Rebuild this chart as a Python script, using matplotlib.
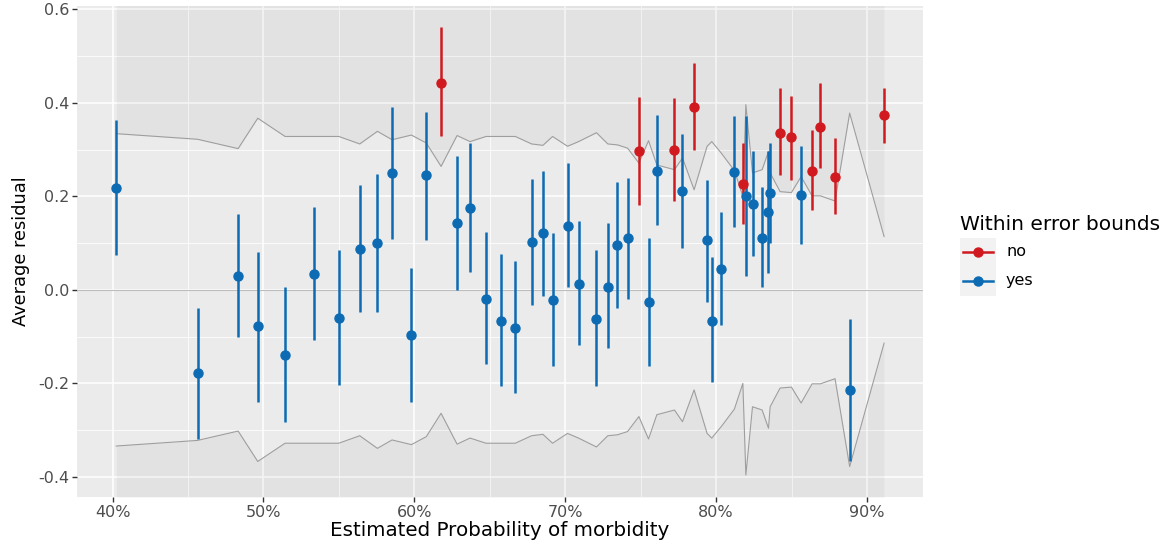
import numpy as np
import matplotlib.pyplot as plt
from matplotlib.lines import Line2D
from matplotlib.patches import Rectangle
from matplotlib.ticker import FixedLocator, FuncFormatter

plt.rcParams['font.family'] = ['DejaVu Sans']
plt.rcParams['axes.unicode_minus'] = False

# estimated probability of morbidity (%)
prob = [40.24, 45.63, 48.32, 49.62, 51.43, 53.38, 54.99, 56.38, 57.55, 58.52,
        59.80, 60.79, 61.77, 62.83, 63.69, 64.75, 65.74, 66.69, 67.77, 68.52,
        69.16, 70.15, 70.88, 72.07, 72.82, 73.46, 74.13, 74.88, 75.52, 76.07,
        77.24, 77.77, 78.54, 79.40, 79.71, 80.35, 81.21, 81.77, 81.97, 82.41,
        83.05, 83.47, 83.58, 84.24, 84.99, 85.63, 86.36, 86.91, 87.88, 88.85,
        91.13]
resid = [0.218, -0.178, 0.029, -0.078, -0.139, 0.034, -0.061, 0.087, 0.100, 0.250,
         -0.097, 0.245, 0.443, 0.142, 0.176, -0.019, -0.066, -0.082, 0.102, 0.121,
         -0.021, 0.137, 0.013, -0.063, 0.007, 0.095, 0.110, 0.297, -0.026, 0.255,
         0.300, 0.212, 0.391, 0.106, -0.066, 0.045, 0.252, 0.226, 0.200, 0.184,
         0.110, 0.166, 0.208, 0.336, 0.326, 0.202, 0.255, 0.349, 0.242, -0.215,
         0.373]
upper = [0.364, -0.039, 0.163, 0.082, 0.006, 0.177, 0.086, 0.225, 0.248, 0.392,
         0.046, 0.381, 0.562, 0.287, 0.315, 0.123, 0.077, 0.061, 0.237, 0.255,
         0.121, 0.271, 0.148, 0.086, 0.143, 0.230, 0.239, 0.412, 0.111, 0.374,
         0.410, 0.334, 0.486, 0.234, 0.070, 0.166, 0.371, 0.315, 0.371, 0.297,
         0.221, 0.296, 0.315, 0.431, 0.415, 0.308, 0.342, 0.442, 0.324, -0.063,
         0.431]
lower = [0.075, -0.319, -0.101, -0.240, -0.282, -0.108, -0.203, -0.048, -0.048, 0.109,
         -0.240, 0.107, 0.329, -0.001, 0.038, -0.159, -0.205, -0.221, -0.032, -0.014,
         -0.162, 0.007, -0.119, -0.205, -0.125, -0.038, -0.020, 0.182, -0.162, 0.138,
         0.190, 0.090, 0.298, -0.025, -0.197, -0.075, 0.135, 0.140, 0.030, 0.073,
         0.006, 0.037, 0.100, 0.246, 0.235, 0.098, 0.170, 0.260, 0.162, -0.367,
         0.315]
# half-width of the error bounds at each point
bound = [0.334, 0.322, 0.302, 0.367, 0.328, 0.328, 0.328, 0.312, 0.339, 0.321,
         0.331, 0.314, 0.264, 0.330, 0.317, 0.328, 0.328, 0.328, 0.312, 0.309,
         0.328, 0.307, 0.317, 0.336, 0.312, 0.310, 0.303, 0.271, 0.319, 0.267,
         0.257, 0.282, 0.214, 0.307, 0.317, 0.292, 0.255, 0.200, 0.396, 0.250,
         0.257, 0.296, 0.250, 0.210, 0.208, 0.242, 0.201, 0.201, 0.190, 0.378,
         0.114]
within = ['yes'] * 12 + ['no'] + ['yes'] * 14 + ['no', 'yes', 'yes', 'no', 'yes', 'no'] \
    + ['yes'] * 4 + ['no'] + ['yes'] * 5 + ['no', 'no', 'yes', 'no', 'no', 'no', 'yes', 'no']

colors = {'no': '#D01A1F', 'yes': '#0C6BB3'}
x_ticks = [40, 50, 60, 70, 80, 90]
y_ticks = [-0.4, -0.2, 0.0, 0.2, 0.4, 0.6]

x = np.array(prob) / 100
b = np.array(bound)

fig = plt.figure(figsize=(11.7, 5.47), dpi=100)
ax = fig.add_axes([77 / 1170, 1 - 497 / 547, 846 / 1170, 491 / 547])
ax.set_facecolor('#EBEBEB')
for s in ax.spines.values():
    s.set_visible(False)

ax.set_xlim(0.3764, 0.9371)
ax.set_ylim(-0.443, 0.607)

ax.xaxis.set_major_locator(FixedLocator([t / 100 for t in x_ticks]))
ax.xaxis.set_minor_locator(FixedLocator([t / 100 + 0.05 for t in x_ticks[:-1]]))
ax.yaxis.set_major_locator(FixedLocator(y_ticks))
ax.yaxis.set_minor_locator(FixedLocator([t + 0.1 for t in y_ticks[:-1]]))
ax.xaxis.set_major_formatter(FuncFormatter(lambda v, p: f"{v * 100:.0f}%"))
ax.yaxis.set_major_formatter(FuncFormatter(lambda v, p: f"{v:.1f}"))
ax.grid(which='major', color='white', lw=1.1, zorder=0)
ax.grid(which='minor', color='white', lw=0.55, zorder=0)
ax.set_axisbelow(True)
ax.tick_params(which='major', length=3.5, width=1, color='#333333',
               labelsize=11.5, labelcolor='#4D4D4D', pad=2)
ax.tick_params(which='minor', length=0)

# shading outside the error bounds
ax.fill_between(x, b, 1.0, color='black', alpha=0.035, lw=0, zorder=1)
ax.fill_between(x, -1.0, -b, color='black', alpha=0.035, lw=0, zorder=1)
ax.plot(x, b, color='#9E9E9E', lw=0.8, zorder=2)
ax.plot(x, -b, color='#9E9E9E', lw=0.8, zorder=2)
ax.axhline(0, color='#BDBDBD', lw=0.8, zorder=2)

for xi, r, lo, hi, w in zip(x, resid, lower, upper, within):
    c = colors[w]
    ax.vlines(xi, lo, hi, color=c, lw=1.8, zorder=3)
    ax.plot(xi, r, 'o', color=c, ms=6.5, mec=c, zorder=4)

ax.set_xlabel('Estimated Probability of morbidity', fontsize=14.3, color='black', labelpad=1)
ax.set_ylabel('Average residual', fontsize=12.8, color='black', labelpad=6)

# legend
fig.text(960 / 1170, 1 - 224 / 547, 'Within error bounds', fontsize=14.5,
         va='center', ha='left')
for i, lab in enumerate(['no', 'yes']):
    yc = 252 + i * 29
    fig.add_artist(Rectangle((960 / 1170, 1 - (yc + 14.5) / 547), 36 / 1170, 29 / 547,
                             transform=fig.transFigure, color='#F2F2F2', lw=0))
    fig.add_artist(Line2D([963 / 1170, 993 / 1170], [1 - yc / 547] * 2,
                          transform=fig.transFigure, color=colors[lab], lw=1.8))
    fig.add_artist(Line2D([978 / 1170], [1 - yc / 547], transform=fig.transFigure,
                          marker='o', ms=6.5, color=colors[lab]))
    fig.text(1006 / 1170, 1 - yc / 547, lab, fontsize=11.5, va='center', ha='left')

fig.savefig('out.png', dpi=100)
